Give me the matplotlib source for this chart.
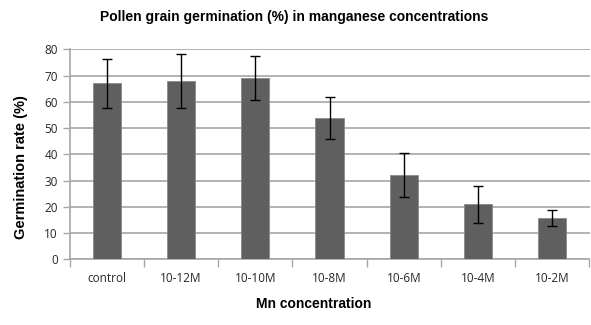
import matplotlib

matplotlib.use("Agg")
import matplotlib.pyplot as plt
import numpy as np

categories = ["control", "10-12M", "10-10M", "10-8M", "10-6M", "10-4M", "10-2M"]
germination = [67, 68, 69, 54, 32, 21, 15.7]
errors = [9.2, 10.2, 8.4, 8.0, 8.4, 7.0, 3.1]

BAR_COLOR = "#5f5f5f"
GRID_COLOR = "#a6a6a6"
TEXT_COLOR = "#262626"

plt.rcParams["font.family"] = ["Liberation Sans", "DejaVu Sans"]

fig = plt.figure(figsize=(5.91, 3.25), dpi=100)
ax = fig.add_axes([69.5 / 591, 1 - 259.3 / 325, 520 / 591, 210 / 325])

x = np.arange(len(categories))
ax.bar(x, germination, width=0.38, color=BAR_COLOR, edgecolor="#8a8a8a",
       linewidth=0.6, zorder=3)
ax.errorbar(x, germination, yerr=errors, fmt="none", ecolor="black",
            elinewidth=1.0, capsize=3.5, capthick=1.0, zorder=4)

ax.set_xlim(-0.5, len(categories) - 0.5)
ax.set_ylim(0, 80)
ax.set_yticks(range(0, 81, 10))
ax.set_xticks(x)
ax.set_xticklabels(categories, family="Open Sans")
for lbl in ax.get_yticklabels():
    lbl.set_family("Open Sans")
ax.set_xticks(np.arange(-0.5, len(categories)), minor=True)
ax.tick_params(axis="x", which="major", length=0, pad=9, labelsize=8.5, colors=TEXT_COLOR)
ax.tick_params(axis="x", which="minor", length=6, width=1.0, color=GRID_COLOR)
ax.tick_params(axis="y", length=5, width=1.0, color=GRID_COLOR, labelsize=8.5,
               labelcolor=TEXT_COLOR, pad=3.3)

ax.grid(True, axis="y", color=GRID_COLOR, linewidth=1.2, zorder=0)
ax.set_axisbelow(True)
for side in ("top", "right"):
    ax.spines[side].set_visible(False)
for side in ("left", "bottom"):
    ax.spines[side].set_color(GRID_COLOR)
    ax.spines[side].set_linewidth(1.2)

fig.text(294 / 591, 1 - 17 / 325, "Pollen grain germination (%) in manganese concentrations",
         ha="center", va="center", fontsize=10, fontweight="bold", color="black")
fig.text(21 / 591, 1 - 167 / 325, "Germination rate (%)", rotation=90,
         ha="center", va="center", fontsize=10.5, fontweight="bold", color="black")
fig.text(314 / 591, 1 - 304 / 325, "Mn concentration",
         ha="center", va="center", fontsize=10, fontweight="bold", color="black")

fig.savefig("out.png", dpi=100, facecolor="white")
